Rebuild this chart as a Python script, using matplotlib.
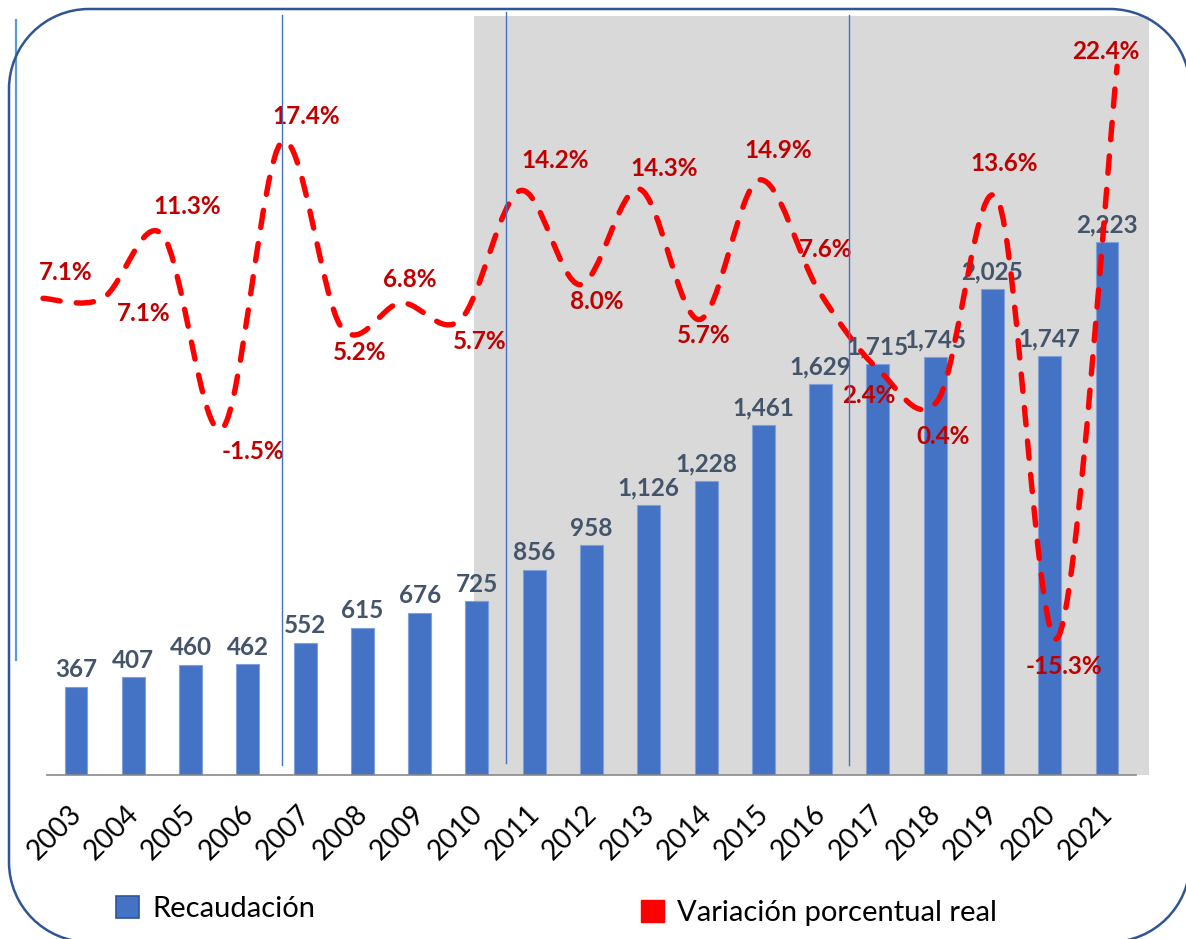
import numpy as np
import matplotlib.pyplot as plt
from matplotlib.path import Path
from matplotlib.patches import PathPatch, Rectangle, Patch
from matplotlib.lines import Line2D
from matplotlib.transforms import ScaledTranslation

# data
years = ['2003', '2004', '2005', '2006', '2007', '2008', '2009', '2010', '2011', '2012',
         '2013', '2014', '2015', '2016', '2017', '2018', '2019', '2020', '2021']
recaudacion = [367, 407, 460, 462, 552, 615, 676, 725, 856, 958,
               1126, 1228, 1461, 1629, 1715, 1745, 2025, 1747, 2223]
variacion = [7.1, 7.1, 11.3, -1.5, 17.4, 5.2, 6.8, 5.7, 14.2, 8.0,
             14.3, 5.7, 14.9, 7.6, 2.4, 0.4, 13.6, -15.3, 22.4]

# where each % label sits relative to its point (pixels, y down)
label_offsets = [(23, -26), (41, 15), (25, -28), (31, 23), (25, -26), (18, 25), (9, -23),
                 (19, 22), (35, -30), (17, 17), (24, -21), (4, 16), (19, -29), (7, -41),
                 (-10, 26), (5, 37), (6, -36), (7, 28), (-11, -15)]

BAR = '#4472C4'
RED = '#FF0000'
LABEL_RED = '#C00000'
LABEL_GRAY = '#44546A'

plt.rcParams['font.family'] = ['Lato', 'DejaVu Sans']

W, H = 1186, 939
fig = plt.figure(figsize=(W / 100, H / 100), dpi=100)
inch = fig.dpi_scale_trans


def px_rect(x0, y0, x1, y1):
    # pixel box (y down) -> figure fraction rect
    return [x0 / W, 1 - y1 / H, (x1 - x0) / W, (y1 - y0) / H]


def smooth_path(x, y):
    # excel style smoothed line: cubic bezier through every point
    n = len(x)
    verts = [(x[0], y[0])]
    codes = [Path.MOVETO]
    for i in range(n - 1):
        xa, ya = (x[i - 1], y[i - 1]) if i > 0 else (x[i], y[i])
        xb, yb = (x[i + 2], y[i + 2]) if i + 2 < n else (x[i + 1], y[i + 1])
        c1 = (x[i] + (x[i + 1] - xa) / 6, y[i] + (y[i + 1] - ya) / 6)
        c2 = (x[i + 1] - (xb - x[i]) / 6, y[i + 1] - (yb - y[i]) / 6)
        verts += [c1, c2, (x[i + 1], y[i + 1])]
        codes += [Path.CURVE4] * 3
    return Path(verts, codes)


def frame_path(x0, y0, x1, y1, r):
    # rounded rectangle in pixels (y down), flattened to a polyline in inches
    k = 0.5523 * r
    pts = [(x0 + r, y0), (x1 - r, y0),
           (x1 - r + k, y0), (x1, y0 + r - k), (x1, y0 + r),
           (x1, y1 - r),
           (x1, y1 - r + k), (x1 - r + k, y1), (x1 - r, y1),
           (x0 + r, y1),
           (x0 + r - k, y1), (x0, y1 - r + k), (x0, y1 - r),
           (x0, y0 + r),
           (x0, y0 + r - k), (x0 + r - k, y0), (x0 + r, y0)]
    codes = [Path.MOVETO, Path.LINETO] + [Path.CURVE4] * 3 + [Path.LINETO] + [Path.CURVE4] * 3 \
        + [Path.LINETO] + [Path.CURVE4] * 3 + [Path.LINETO] + [Path.CURVE4] * 3
    poly = Path(pts, codes).to_polygons(closed_only=False)[0]
    return Path(np.column_stack([poly[:, 0] / 100, (H - poly[:, 1]) / 100]))


# gray shaded block behind the later years
fig.add_artist(Rectangle((474 / 100, (H - 775) / 100), 675 / 100, 759 / 100,
                         facecolor='#D9D9D9', edgecolor='none', transform=inch, zorder=-5))

rect = px_rect(47.4, 16, 1135.6, 775)
ax = fig.add_axes(rect)
ax.patch.set_visible(False)
x = np.arange(len(years))
bars = ax.bar(x, recaudacion, width=0.4, color=BAR, edgecolor='#7FA0DA', linewidth=0.8, zorder=2)
ax.bar_label(bars, labels=[f'{v:,}' for v in recaudacion], padding=4, fontsize=17.5,
             fontweight='bold', color=LABEL_GRAY, zorder=3)
ax.set_xlim(-0.5, 18.5)
ax.set_ylim(0, 3165)
ax.set_yticks([])
for s in ['top', 'right', 'left']:
    ax.spines[s].set_visible(False)
ax.spines['bottom'].set_color('#898989')
ax.spines['bottom'].set_linewidth(1.2)
ax.set_xticks(x, years, rotation=45, ha='right', va='baseline', rotation_mode='anchor', fontsize=20)
ax.tick_params(axis='x', length=0, pad=29.5)
shift = ScaledTranslation(0.07, 0, inch)
for lab in ax.get_xticklabels():
    lab.set_transform(lab.get_transform() + shift)

# secondary axes for the percentage line
ax2 = fig.add_axes(rect, frameon=False)
ax2.set_xlim(0.074, 18.31)
ax2.set_ylim(-24.32, 25.71)
ax2.set_xticks([])
ax2.set_yticks([])
xl = np.arange(len(variacion))
ax2.add_patch(PathPatch(smooth_path(xl, variacion), fill=False, edgecolor=RED, linewidth=3.9,
                        linestyle=(0, (3.2, 3.0)), capstyle='round', clip_on=False, zorder=4))
for i, v in enumerate(variacion):
    dx, dy = label_offsets[i]
    ax2.annotate(f'{v:.1f}%', (i, v), xytext=(dx, -dy), textcoords='offset pixels',
                 ha='center', va='center', fontsize=17.5, fontweight='bold', color=LABEL_RED,
                 annotation_clip=False, zorder=5)

# thin stray vertical lines from the original slide
for xs, y0, y1, c, lw in [(16, 20, 660, '#5B9BD5', 1.6), (282, 15, 765, '#4472C4', 1.0),
                          (506, 12, 763, '#4472C4', 1.0), (849, 15, 765, '#4472C4', 1.0)]:
    fig.add_artist(Line2D([xs / 100, xs / 100], [(H - y0) / 100, (H - y1) / 100],
                          color=c, linewidth=lw, transform=inch, zorder=6))

# rounded frame
fig.add_artist(PathPatch(frame_path(9, 9, 1190, 942, 80), facecolor='none', edgecolor='#2F5597',
                         linewidth=1.8, transform=inch, zorder=7))

# legend
leg_kw = dict(frameon=False, fontsize=21, handlelength=0.8, handleheight=0.8,
              handletextpad=0.45, borderpad=0, borderaxespad=0, loc='center left')
fig.legend(handles=[Patch(facecolor=BAR, edgecolor='#2F5597', linewidth=1.2)], labels=['Recaudación'],
           bbox_to_anchor=(116 / W, 1 - 909 / H), **leg_kw)
fig.legend(handles=[Patch(facecolor=RED, edgecolor=RED)], labels=['Variación porcentual real'],
           bbox_to_anchor=(641 / W, 1 - 913 / H), **leg_kw)

fig.savefig('out.png', dpi=100)
